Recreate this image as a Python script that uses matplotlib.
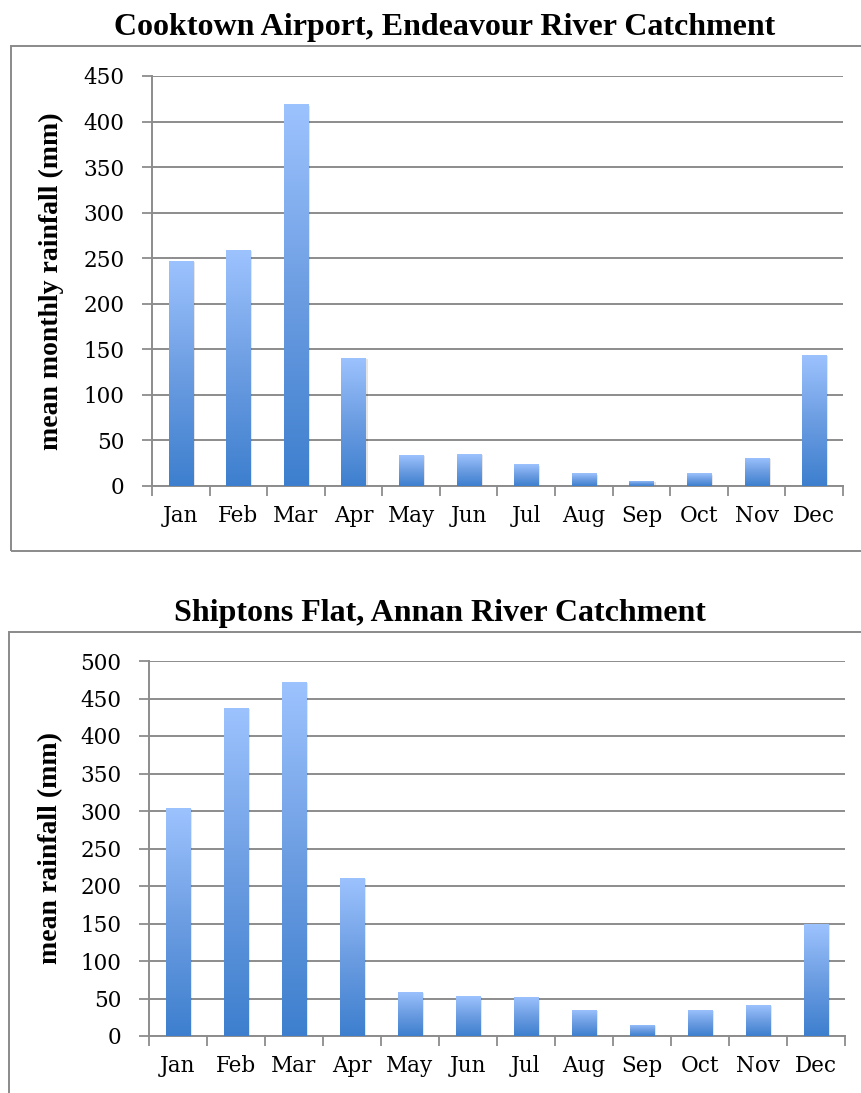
import numpy as np
import matplotlib
matplotlib.use("Agg")
import matplotlib.pyplot as plt
from matplotlib.colors import LinearSegmentedColormap
from matplotlib.patches import Rectangle

months = ["Jan", "Feb", "Mar", "Apr", "May", "Jun",
          "Jul", "Aug", "Sep", "Oct", "Nov", "Dec"]

cooktown_rain = [247, 259, 419, 141, 34, 35, 24, 14, 6, 14, 31, 144]
shiptons_rain = [304, 438, 472, 211, 59, 53, 52, 35, 15, 35, 41, 149]

cooktown_title = "Cooktown Airport, Endeavour River Catchment"
shiptons_title = "Shiptons Flat, Annan River Catchment"
cooktown_ylabel = "mean monthly rainfall (mm)"
shiptons_ylabel = "mean rainfall (mm)"
cooktown_yticks = list(range(0, 451, 50))
shiptons_yticks = list(range(0, 501, 50))

GRID = "#8c8c8c"
FRAME = "#8a8a8a"
bar_cmap = LinearSegmentedColormap.from_list("bar", ["#3d7fce", "#6c9de2", "#9dc3fe"])

fig = plt.figure(figsize=(8.62, 10.93), dpi=100)
W, H = 862, 1093


def px_rect(x0, y0, x1, y1):
    """figure-fraction rect from pixel box (top-left origin)"""
    return [x0 / W, 1 - y1 / H, (x1 - x0) / W, (y1 - y0) / H]


def gradient_bars(ax, values, width=0.42):
    grad = np.linspace(0, 1, 256).reshape(-1, 1)
    bars = ax.bar(range(len(values)), values, width=width, color="none", zorder=3)
    for b in bars:
        x0, h = b.get_x(), b.get_height()
        # soft shadow
        ax.add_patch(Rectangle((x0 + 0.035, -1.5), width, h, facecolor="#000000",
                               alpha=0.10, linewidth=0, zorder=2.5))
        im = ax.imshow(grad, cmap=bar_cmap, origin="lower", aspect="auto",
                       extent=(x0, x0 + width, 0, h), zorder=3, interpolation="bilinear")
        im.set_clip_path(b)


def style_axes(ax, yticks, ylabel):
    ax.set_xlim(-0.5, 11.5)
    ax.set_ylim(0, yticks[-1])
    ax.set_yticks(yticks)
    ax.set_yticklabels([str(v) for v in yticks], family="DejaVu Serif", fontsize=15.5)
    ax.set_xticks(np.arange(-0.5, 12, 1.0))
    ax.set_xticklabels([])
    ax.set_xticks(np.arange(12), minor=True)
    ax.set_xticklabels(months, minor=True, family="DejaVu Serif", fontsize=15.5)
    ax.tick_params(axis="x", which="major", direction="out", length=7, width=1.3,
                   color=GRID)
    ax.tick_params(axis="x", which="minor", length=0, pad=14)
    ax.tick_params(axis="y", direction="out", length=7, width=1.3, color=GRID, pad=13)
    ax.grid(axis="y", color=GRID, linewidth=1.4, zorder=0)
    ax.set_axisbelow(True)
    for s in ("top", "right"):
        ax.spines[s].set_visible(False)
    for s in ("left", "bottom"):
        ax.spines[s].set_color(GRID)
        ax.spines[s].set_linewidth(1.4)
    ax.set_ylabel(ylabel, family="Liberation Serif", fontweight="bold", fontsize=20)


# top chart
ax1 = fig.add_axes(px_rect(152, 76, 843, 486))
gradient_bars(ax1, cooktown_rain)
style_axes(ax1, cooktown_yticks, cooktown_ylabel)
ax1.yaxis.set_label_coords(-0.128, 0.5)

# bottom chart
ax2 = fig.add_axes(px_rect(149, 661, 845, 1036))
gradient_bars(ax2, shiptons_rain)
style_axes(ax2, shiptons_yticks, shiptons_ylabel)
ax2.yaxis.set_label_coords(-0.123, 0.5)

# chart frames
fig.add_artist(Rectangle((11 / W, 1 - 551 / H), 1.0, (551 - 46) / H,
                         transform=fig.transFigure, fill=False,
                         edgecolor=FRAME, linewidth=1.4))
fig.add_artist(Rectangle((9 / W, -0.1), 1.0, 0.1 + (1093 - 632) / H,
                         transform=fig.transFigure, fill=False,
                         edgecolor=FRAME, linewidth=1.4))

# titles
fig.text(445 / W, 1 - 28 / H, cooktown_title, ha="center", va="center",
         family="Liberation Serif", fontweight="bold", fontsize=23)
fig.text(440 / W, 1 - 614 / H, shiptons_title, ha="center", va="center",
         family="Liberation Serif", fontweight="bold", fontsize=23)

fig.savefig("out.png", dpi=100)
